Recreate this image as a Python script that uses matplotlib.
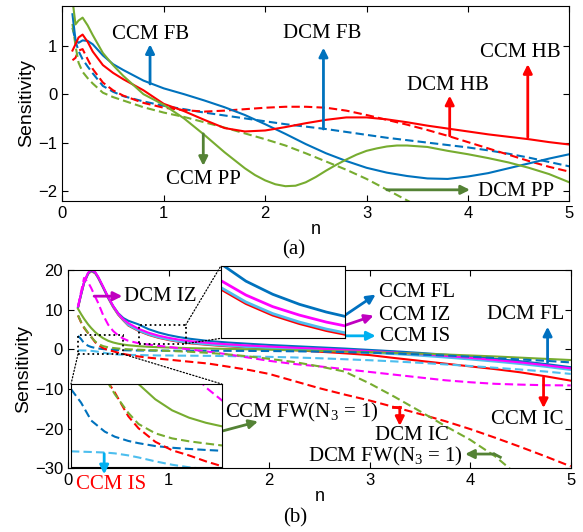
import numpy as np
import matplotlib
matplotlib.use('Agg')
import matplotlib.pyplot as plt
from matplotlib.patches import Rectangle, ConnectionPatch

plt.rcParams['font.family'] = ['Liberation Sans', 'DejaVu Sans']
plt.rcParams['mathtext.fontset'] = 'custom'
plt.rcParams['mathtext.rm'] = 'Liberation Serif'
plt.rcParams['mathtext.it'] = 'Liberation Serif:italic'

BLUE = '#0072BD'
RED = '#FF0000'
GREEN = '#77AC30'
MAGENTA = '#FF00FF'
CYAN = '#4DBEEE'
DKGREEN = '#548235'
ARR_BLUE = '#0070C0'
ARR_MAG = '#C000C0'
ARR_CYAN = '#00B0F0'
SERIF = 'Liberation Serif'

# ---------------- panel (a) data ----------------
n_a = [0.1, 0.13, 0.16, 0.2, 0.25, 0.3, 0.4, 0.5, 0.6, 0.8, 1.0, 1.2, 1.4, 1.6, 1.8, 2.0,
       2.2, 2.4, 2.6, 2.8, 3.0, 3.2, 3.4, 3.6, 3.8, 4.0, 4.2, 4.4, 4.6, 4.8, 5.0]
ccm_fb = [1.65, 1.12, 1.06, 1.11, 1.1, 1.03, 0.8, 0.62, 0.5, 0.28, 0.12, 0.0, -0.13, -0.27, -0.43, -0.62,
          -0.82, -1.03, -1.22, -1.38, -1.52, -1.62, -1.69, -1.74, -1.75, -1.7, -1.63, -1.53, -1.43, -1.33, -1.24]
dcm_fb = [1.37, 1.1, 0.89, 0.72, 0.57, 0.43, 0.17, 0.05, -0.04, -0.15, -0.24, -0.31, -0.38, -0.44, -0.5, -0.56,
          -0.62, -0.67, -0.72, -0.78, -0.84, -0.9, -0.95, -1.0, -1.05, -1.1, -1.16, -1.23, -1.31, -1.4, -1.49]
ccm_hb = [0.9, 1.03, 1.17, 1.23, 1.08, 0.88, 0.6, 0.44, 0.31, 0.08, -0.2, -0.35, -0.53, -0.7, -0.77, -0.75,
          -0.68, -0.6, -0.53, -0.48, -0.48, -0.52, -0.58, -0.65, -0.71, -0.77, -0.83, -0.88, -0.93, -0.99, -1.04]
dcm_hb = [0.7, 0.75, 0.9, 0.93, 0.72, 0.52, 0.24, 0.08, -0.03, -0.18, -0.28, -0.33, -0.36, -0.34, -0.31, -0.28,
          -0.26, -0.26, -0.28, -0.34, -0.43, -0.53, -0.63, -0.74, -0.86, -0.99, -1.12, -1.25, -1.38, -1.5, -1.6]
n_ccm_pp = [0.1, 0.13, 0.16, 0.2, 0.25, 0.3, 0.4, 0.5, 0.6, 0.8, 1.0, 1.2, 1.4, 1.6, 1.8, 1.9, 2.0, 2.1,
            2.2, 2.3, 2.4, 2.5, 2.6, 2.7, 2.8, 2.9, 3.0, 3.1, 3.2, 3.3, 3.4, 3.6, 3.8, 4.0, 4.2, 4.4, 4.6,
            4.8, 5.0]
ccm_pp = [1.95, 1.44, 1.52, 1.58, 1.42, 1.22, 0.85, 0.6, 0.38, 0.0, -0.22, -0.5, -0.84, -1.2, -1.53, -1.67,
          -1.78, -1.86, -1.9, -1.89, -1.82, -1.71, -1.58, -1.46, -1.35, -1.25, -1.17, -1.12, -1.08, -1.06,
          -1.06, -1.09, -1.17, -1.24, -1.32, -1.41, -1.52, -1.65, -1.82]
n_dcm_pp = [0.1, 0.13, 0.16, 0.2, 0.25, 0.3, 0.4, 0.5, 0.6, 0.8, 1.0, 1.2, 1.4, 1.6, 1.8, 2.0,
            2.2, 2.4, 2.6, 2.8, 3.0, 3.2, 3.45]
dcm_pp = [1.45, 1.0, 0.65, 0.46, 0.33, 0.22, 0.03, -0.06, -0.13, -0.27, -0.38, -0.47, -0.58, -0.69, -0.81, -0.93,
          -1.06, -1.22, -1.39, -1.56, -1.75, -1.97, -2.25]

# ---------------- panel (b) data ----------------
n_b = [0.1, 0.13, 0.16, 0.2, 0.23, 0.27, 0.3, 0.35, 0.4, 0.45, 0.5, 0.55, 0.6, 0.7, 0.8, 0.9, 1.0, 1.1,
       1.2, 1.4, 1.6, 1.8, 2.0, 2.25, 2.5, 2.75, 3.0, 3.25, 3.5, 3.75, 4.0, 4.25, 4.5, 4.75, 5.0]
ccm_iz = [10.8, 14.0, 17.0, 19.3, 20.0, 19.5, 18.3, 15.8, 13.2, 10.9, 9.0, 7.6, 6.6, 5.2, 4.2, 3.45, 2.9, 2.45,
          2.1, 1.6, 1.25, 0.95, 0.7, 0.4, 0.15, -0.15, -0.45, -0.8, -1.2, -1.65, -2.15, -2.7, -3.3, -4.0, -4.8]
ccm_fl = [10.7, 13.9, 16.9, 19.2, 19.9, 19.4, 18.2, 15.7, 13.1, 10.9, 9.1, 7.9, 7.2, 6.3, 5.1, 4.25, 3.6, 3.1,
          2.7, 2.1, 1.7, 1.4, 1.1, 0.8, 0.5, 0.2, -0.15, -0.5, -0.9, -1.35, -1.85, -2.4, -3.0, -3.7, -4.5]
ccm_is = [10.6, 13.8, 16.8, 19.1, 19.8, 19.3, 18.1, 15.6, 13.0, 10.7, 8.8, 7.4, 6.1, 4.75, 3.75, 3.0, 2.45, 2.0,
          1.65, 1.2, 0.85, 0.55, 0.3, 0.0, -0.25, -0.55, -0.85, -1.2, -1.6, -2.05, -2.55, -3.1, -3.7, -4.4, -5.2]
ccm_ic = [10.5, 13.7, 16.7, 19.0, 19.7, 19.2, 18.0, 15.5, 12.9, 10.6, 8.7, 7.3, 6.0, 4.65, 3.65, 2.9, 2.35, 1.9,
          1.55, 1.1, 0.75, 0.45, 0.15, -0.2, -0.6, -1.0, -1.45, -2.2, -2.9, -3.6, -4.3, -5.0, -5.8, -6.8, -7.9]
ccm_fw = [10.2, 8.9, 7.7, 6.3, 5.4, 4.35, 3.7, 2.8, 2.15, 1.72, 1.42, 1.2, 1.03, 0.8, 0.64, 0.54, 0.45, 0.38,
          0.3, 0.2, 0.1, 0.0, -0.1, -0.25, -0.4, -0.55, -0.7, -0.9, -1.1, -1.3, -1.55, -1.8, -2.1, -2.4, -2.7]
dcm_iz = [10.8, 14.5, 18.0, 16.9, 15.5, 13.3, 11.7, 8.6, 6.2, 4.6, 3.5, 2.7, 2.15, 1.55, 1.2, 0.9, 0.6, 0.3,
          0.0, -0.6, -1.3, -2.1, -2.9, -3.7, -4.3, -5.0, -5.7, -6.4, -7.1, -7.8, -8.3, -8.7, -8.9, -9.05, -9.1]
dcm_fl = [3.4, 2.6, 1.55, 0.9, 0.6, 0.35, 0.22, 0.05, -0.05, -0.12, -0.18, -0.23, -0.26, -0.3, -0.32, -0.33, -0.34,
          -0.35, -0.35, -0.36, -0.38, -0.4, -0.43, -0.5, -0.58, -0.7, -0.85, -1.05, -1.3, -1.55, -1.85, -2.2, -2.55,
          -2.9, -3.3]
dcm_is = [-0.26, -0.28, -0.3, -0.33, -0.38, -0.5, -0.62, -0.85, -1.05, -1.2, -1.3, -1.35, -1.4, -1.45, -1.5, -1.55,
          -1.55, -1.6, -1.6, -1.65, -1.7, -1.8, -1.9, -2.05, -2.25, -2.5, -2.75, -3.05, -3.4, -3.8, -4.2, -4.65, -5.1,
          -5.6, -6.2]
dcm_ic = [8.5, 6.8, 5.4, 4.1, 3.2, 1.8, 1.1, 0.3, -0.2, -0.5, -0.85, -1.15, -1.4, -1.8, -2.1, -2.35, -2.6, -2.85,
          -3.1, -3.6, -4.4, -5.2, -6.2, -8.0, -9.8, -11.4, -12.9, -14.6, -16.3, -18.1, -20.1, -22.3, -24.6, -27.0,
          -29.5]
n_dcm_fw = [0.1, 0.13, 0.16, 0.2, 0.23, 0.27, 0.3, 0.35, 0.4, 0.45, 0.5, 0.55, 0.6, 0.7, 0.8, 0.9, 1.0, 1.1,
            1.2, 1.4, 1.6, 1.8, 2.0, 2.25, 2.5, 2.75, 3.0, 3.25, 3.5, 3.75, 4.0, 4.25, 4.4]
dcm_fw = [8.6, 6.9, 5.6, 4.1, 3.1, 2.0, 1.35, 0.8, 0.5, 0.33, 0.2, 0.08, 0.0, -0.1, -0.2, -0.3, -0.4, -0.5,
          -0.6, -0.9, -1.3, -1.8, -2.4, -3.2, -4.3, -5.6, -8.6, -12.0, -15.6, -19.3, -22.8, -27.0, -30.2]

LW = 1.5
DASH = (0, (4, 2))

fig = plt.figure(figsize=(5.83, 5.32), dpi=100)
ax_a = fig.add_axes([0.1069, 0.6227, 0.8697, 0.366])
ax_b = fig.add_axes([0.1166, 0.1197, 0.8623, 0.3728])


def style_axes(ax):
    ax.tick_params(direction='in', top=True, right=True, labelsize=12, length=4, width=0.8)
    for s in ax.spines.values():
        s.set_linewidth(0.8)


def arrow(ax, start, end, color, clip=True, coords='data'):
    ax.annotate('', xy=end, xytext=start, xycoords=coords, textcoords=coords, annotation_clip=clip,
                arrowprops=dict(arrowstyle='-|>', lw=2, color=color, mutation_scale=13,
                                shrinkA=0, shrinkB=0))


def label(ax, x, y, s, color='black', size=15):
    ax.text(x, y, s, ha='center', va='center', fontsize=size, family=SERIF, color=color,
            clip_on=False)


# ---------------- panel (a) ----------------
ax = ax_a
ax.plot(n_a, dcm_fb, color=BLUE, lw=LW, ls=DASH)
ax.plot(n_a, dcm_hb, color=RED, lw=LW, ls=DASH)
ax.plot(n_dcm_pp, dcm_pp, color=GREEN, lw=LW, ls=DASH)
ax.plot(n_a, ccm_fb, color=BLUE, lw=LW)
ax.plot(n_a, ccm_hb, color=RED, lw=LW)
ax.plot(n_ccm_pp, ccm_pp, color=GREEN, lw=LW)
ax.set_xlim(0, 5)
ax.set_ylim(-2.2, 1.82)
ax.set_xticks([0, 1, 2, 3, 4, 5])
ax.set_yticks([-2, -1, 0, 1])
style_axes(ax)
ax.set_ylabel('Sensitivity', fontsize=14, labelpad=2)
ax.set_xlabel('n', fontsize=13, labelpad=0)

arrow(ax, (0.865, 0.21), (0.865, 1.03), BLUE)
arrow(ax, (2.575, -0.72), (2.575, 0.96), BLUE)
arrow(ax, (4.59, -0.89), (4.59, 0.62), RED)
arrow(ax, (3.82, -0.86), (3.82, -0.03), RED)
arrow(ax, (1.39, -0.82), (1.39, -1.48), DKGREEN)
arrow(ax, (3.2, -1.975), (4.02, -1.975), DKGREEN)
label(ax, 0.875, 1.24, 'CCM FB')
label(ax, 2.56, 1.25, 'DCM FB')
label(ax, 4.52, 0.85, 'CCM HB')
label(ax, 3.8, 0.18, 'DCM HB')
label(ax, 1.39, -1.77, 'CCM PP')
label(ax, 4.47, -2.0, 'DCM PP')
fig.text(294 / 583, 1 - 250 / 532, '(a)', ha='center', va='center', fontsize=15, family=SERIF)

# ---------------- panel (b) ----------------
ax = ax_b
solid = [(ccm_ic, RED), (ccm_is, CYAN), (ccm_fl, BLUE), (ccm_iz, MAGENTA), (ccm_fw, GREEN)]
dashed = [(dcm_is, CYAN), (dcm_fl, BLUE), (dcm_iz, MAGENTA), (dcm_ic, RED)]
for y, c in solid:
    ax.plot(n_b, y, color=c, lw=LW)
for y, c in dashed:
    ax.plot(n_b, y, color=c, lw=LW, ls=DASH)
ax.plot(n_dcm_fw, dcm_fw, color=GREEN, lw=LW, ls=DASH)
ax.set_xlim(0, 5)
ax.set_ylim(-30, 20)
ax.set_xticks([0, 1, 2, 3, 4, 5])
ax.set_yticks([-30, -20, -10, 0, 10, 20])
style_axes(ax)
ax.set_ylabel('Sensitivity', fontsize=14, labelpad=2)
ax.set_xlabel('n', fontsize=13, labelpad=0)

# zoom boxes and insets
box_l = (0.1, 0.547, -1.2, 3.7)
box_t = (0.707, 1.17, 1.4, 6.1)
for x0, x1, y0, y1 in (box_l, box_t):
    ax.add_patch(Rectangle((x0, y0), x1 - x0, y1 - y0, fill=False, ls=':', lw=1.3, ec='black', zorder=5))

ins_l = fig.add_axes([71 / 583, 1 - 467.3 / 532, 150.7 / 583, 83.3 / 532])
for y, c in solid:
    ins_l.plot(n_b, y, color=c, lw=LW)
for y, c in dashed:
    ins_l.plot(n_b, y, color=c, lw=LW, ls=DASH)
ins_l.plot(n_dcm_fw, dcm_fw, color=GREEN, lw=LW, ls=DASH)
ins_l.set_xlim(box_l[0], box_l[1])
ins_l.set_ylim(box_l[2], box_l[3])

ins_t = fig.add_axes([221 / 583, 1 - 338.3 / 532, 124 / 583, 72.6 / 532])
for y, c in solid[:4]:
    ins_t.plot(n_b, y, color=c, lw=2)
ins_t.set_xlim(box_t[0], box_t[1])
ins_t.set_ylim(box_t[2], box_t[3])

for ins in (ins_l, ins_t):
    ins.set_xticks([])
    ins.set_yticks([])
    for s in ins.spines.values():
        s.set_linewidth(0.8)

conns = [((box_l[0], box_l[2]), ins_l, (0, 1)), ((box_l[1], box_l[2]), ins_l, (1, 1)),
         ((box_t[1], box_t[3]), ins_t, (0, 1)), ((box_t[1], box_t[2]), ins_t, (0, 0))]
for xy, ins, corner in conns:
    cp = ConnectionPatch(xyA=xy, coordsA=ax.transData, xyB=corner, coordsB=ins.transAxes,
                         ls=':', lw=0.9, color='black')
    fig.add_artist(cp)

arrow(ax, (0.26, 13.4), (0.54, 13.4), ARR_MAG)
arrow(ax, (2.75, 8.5), (3.06, 13.8), ARR_BLUE)
arrow(ax, (2.75, 6.0), (3.04, 8.5), ARR_MAG)
arrow(ax, (2.75, 3.4), (3.06, 3.4), ARR_CYAN)
arrow(ax, (4.77, -3.3), (4.77, 5.7), ARR_BLUE)
arrow(ax, (4.73, -7.1), (4.73, -14.8), RED)
ax.plot([3.23, 3.3], [-14.6, -14.6], color=RED, lw=2)
arrow(ax, (3.3, -14.6), (3.3, -19.3), RED)
arrow(ax, (1.52, -20.7), (1.89, -18.2), DKGREEN)
ax.plot([4.3, 4.24], [-27.2, -26.4], color=DKGREEN, lw=2)
arrow(ax, (4.24, -26.4), (3.95, -26.4), DKGREEN)
# the CCM IS arrow starts inside the inset, so draw it on the inset
arrow(ins_l, (0.36, -26.3), (0.36, -31.5), ARR_CYAN, clip=False, coords=ax_b.transData)

label(ax, 0.92, 13.3, 'DCM IZ')
label(ax, 3.47, 14.2, 'CCM FL')
label(ax, 3.45, 8.5, 'CCM IZ')
label(ax, 3.45, 3.2, 'CCM IS')
label(ax, 4.55, 8.8, 'DCM FL')
label(ax, 4.57, -17.6, 'CCM IC')
label(ax, 3.42, -21.6, 'DCM IC')
label(ax, 2.33, -15.8, 'CCM FW(N$_3$ = 1)')
label(ax, 3.16, -27.0, 'DCM FW(N$_3$ = 1)')
label(ax, 0.43, -34.0, 'CCM IS', color=RED)
fig.text(295 / 583, 1 - 518 / 532, '(b)', ha='center', va='center', fontsize=15, family=SERIF)

fig.savefig('out.png', dpi=100)
